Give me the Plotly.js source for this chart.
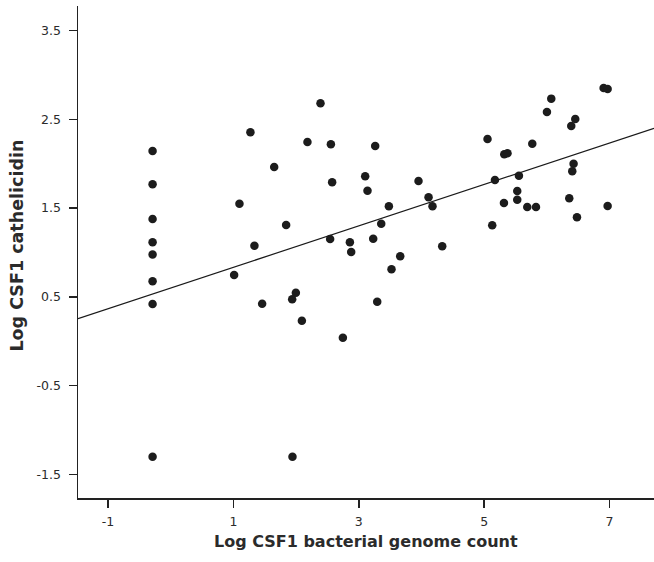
<!DOCTYPE html>
<html>
<head>
<meta charset="utf-8">
<script src="https://cdn.plot.ly/plotly-3.0.1.min.js"></script>
<style>html,body{margin:0;padding:0;background:#fff;}#chart{width:654px;height:562px;}</style>
</head>
<body>
<div id="chart"></div>
<script>
// Log CSF1 bacterial genome count (x) and Log CSF1 cathelicidin (y)
var pointsX = [
  -0.29, -0.29, -0.29, -0.29, -0.29, -0.29, -0.29, -0.29,
  2.389, 1.271, 2.181, 2.555, 3.262, 1.650, 3.102, 2.575, 3.139, 3.953,
  4.113, 4.176, 1.096, 3.480, 1.841, 3.358, 1.335, 2.543, 2.858, 3.230,
  2.879, 4.331, 3.661, 1.011, 3.522, 1.996, 1.937, 1.458, 3.294, 2.092,
  2.746, 1.942,
  6.906, 6.970, 6.071, 6.002, 6.454, 6.390, 5.054, 5.768, 5.321, 5.373,
  6.427, 6.406, 5.172, 5.555, 5.528, 5.528, 5.316, 5.688, 5.827, 6.358,
  6.970, 6.481, 5.129
];
var pointsY = [
  2.144, 1.769, 1.378, 1.115, 0.977, 0.675, 0.420, -1.302,
  2.682, 2.355, 2.245, 2.220, 2.200, 1.964, 1.859, 1.791, 1.697, 1.806,
  1.622, 1.521, 1.550, 1.521, 1.310, 1.325, 1.077, 1.152, 1.115, 1.156,
  1.006, 1.070, 0.957, 0.746, 0.811, 0.547, 0.472, 0.423, 0.445, 0.231,
  0.040, -1.302,
  2.854, 2.843, 2.734, 2.584, 2.505, 2.426, 2.279, 2.226, 2.107, 2.118,
  2.001, 1.915, 1.817, 1.866, 1.693, 1.595, 1.558, 1.513, 1.513, 1.611,
  1.524, 1.397, 1.307
];
// fitted regression line endpoints
var fitX = [-1.48, 7.71];
var fitY = [0.254, 2.40];

var xTicks = [-1, 1, 3, 5, 7];
var xTickText = ["-1", "1", "3", "5", "7"];
var yTicks = [-1.5, -0.5, 0.5, 1.5, 2.5, 3.5];
var yTickText = ["-1.5", "-0.5", "0.5", "1.5", "2.5", "3.5"];

var xTitle = "Log CSF1 bacterial genome count";
var yTitle = "Log CSF1 cathelicidin";

var FONT = "DejaVu Sans, Verdana, sans-serif";
var TXT = "#2b2b2b";

var data = [
  {
    x: fitX, y: fitY, type: "scatter", mode: "lines",
    line: {color: "#1a1a1a", width: 1.2},
    hoverinfo: "skip", showlegend: false
  },
  {
    x: pointsX, y: pointsY, type: "scatter", mode: "markers",
    marker: {color: "#1c1c1c", size: 8.5, line: {width: 0}},
    showlegend: false
  }
];

var layout = {
  width: 654, height: 562,
  margin: {l: 78, r: 0, t: 6, b: 64},
  paper_bgcolor: "#ffffff", plot_bgcolor: "#ffffff",
  font: {family: FONT, color: TXT, size: 12},
  showlegend: false,
  xaxis: {
    range: [-1.48, 7.71],
    tickvals: xTicks, ticktext: xTickText,
    showgrid: false, zeroline: false,
    showline: true, linecolor: "#222222", linewidth: 1.5,
    ticks: "outside", ticklen: 8, tickwidth: 1.5, tickcolor: "#222222",
    ticklabelstandoff: 3,
    tickfont: {family: FONT, size: 12.5, color: TXT}
  },
  yaxis: {
    range: [-1.767, 3.778],
    tickvals: yTicks, ticktext: yTickText,
    showgrid: false, zeroline: false,
    showline: true, linecolor: "#222222", linewidth: 1.5,
    ticks: "outside", ticklen: 8, tickwidth: 1.5, tickcolor: "#222222",
    ticklabelstandoff: 5,
    tickfont: {family: FONT, size: 12.5, color: TXT}
  },
  annotations: [
    {
      text: xTitle, xref: "paper", yref: "paper",
      x: 0.5, y: -0.0874, xanchor: "center", yanchor: "middle",
      showarrow: false,
      font: {family: FONT, size: 16, color: TXT, weight: "bold"}
    },
    {
      text: yTitle, xref: "paper", yref: "paper",
      x: -0.105, y: 0.512, xanchor: "center", yanchor: "middle",
      textangle: -90, showarrow: false,
      font: {family: FONT, size: 17.5, color: TXT, weight: "bold"}
    }
  ]
};

Plotly.newPlot("chart", data, layout, {displayModeBar: false, staticPlot: true});
</script>
</body>
</html>
